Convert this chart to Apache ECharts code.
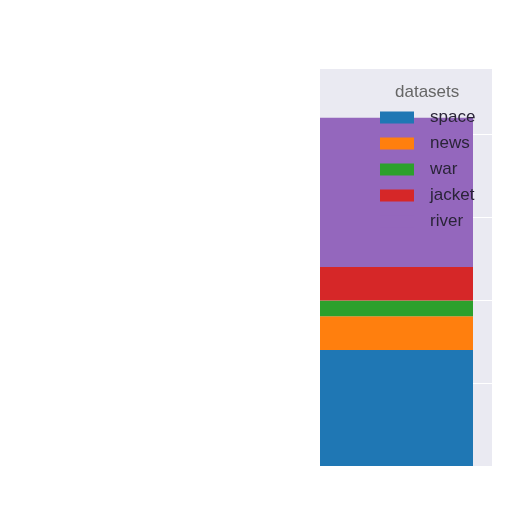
<!DOCTYPE html>
<html>
<head>
    <meta charset="utf-8">
    <title>datasets</title>
    <script src="https://cdn.jsdelivr.net/npm/echarts@6/dist/echarts.min.js"></script>
    <style>
        html, body { margin: 0; padding: 0; background: #fff; }
    </style>
</head>
<body>
<div id="main" style="width: 512px;height:512px;"></div>
<script>
    // 数据
    var categories = [''];
    var seriesNames = ['space', 'news', 'war', 'jacket', 'river'];
    var seriesColors = ['#1f77b4', '#ff7f0e', '#2ca02c', '#d62728', '#9467bd'];
    var seriesValues = [14, 4.05, 1.9, 4.05, 18];
    var yTicks = [0, 10, 20, 30, 40];
    var yMax = 48;

    var myChart = echarts.init(document.getElementById('main'));

    var series = [];
    for (var i = 0; i < seriesNames.length; i++) {
        series.push({
            name: seriesNames[i],
            type: 'bar',
            stack: 'total',
            barWidth: '100%',
            itemStyle: { color: seriesColors[i] },
            data: [seriesValues[i]]
        });
    }

    // y轴公共设置
    function makeYAxis(idx) {
        return {
            type: 'value',
            gridIndex: idx,
            min: yTicks[0],
            max: yMax,
            interval: yTicks[1] - yTicks[0],
            axisLabel: { show: false },
            axisLine: { show: false },
            axisTick: { show: false },
            splitLine: { lineStyle: { color: '#ffffff', width: 1 } }
        };
    }

    var option = {
        animation: false,
        title: {
            text: 'datasets',
            left: 390,
            top: 79,
            textStyle: { color: '#666666', fontSize: 17, fontWeight: 'normal', fontFamily: 'Liberation Sans' }
        },
        legend: {
            orient: 'vertical',
            left: 375,
            top: 104,
            itemWidth: 34,
            itemHeight: 12,
            itemGap: 9,
            icon: 'rect',
            data: seriesNames,
            textStyle: { color: '#2a2438', fontSize: 17, fontFamily: 'Liberation Sans', padding: [0, 0, 0, 11] }
        },
        grid: [
            {
                left: 320,
                right: 39,
                top: 68,
                bottom: 46,
                show: true,
                backgroundColor: '#EAEAF2',
                borderWidth: 0
            },
            {
                left: 473,
                right: 20,
                top: 68,
                bottom: 46,
                show: true,
                backgroundColor: '#EAEAF2',
                borderWidth: 0
            }
        ],
        xAxis: [
            { type: 'category', gridIndex: 0, data: categories, show: false },
            { type: 'value', gridIndex: 1, min: 0, max: 1, show: false }
        ],
        yAxis: [makeYAxis(0), makeYAxis(1)],
        series: series
    };

    myChart.setOption(option);
</script>
</body>
</html>
